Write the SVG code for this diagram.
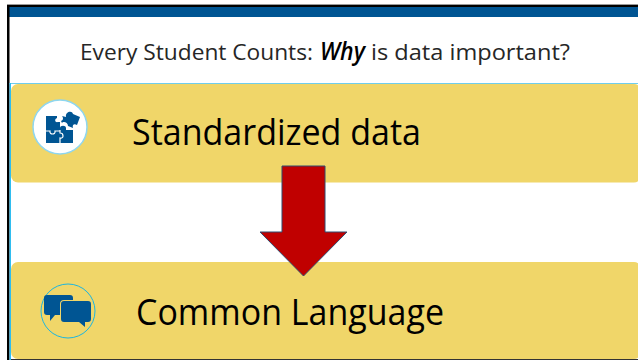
<svg xmlns="http://www.w3.org/2000/svg" width="638" height="360" viewBox="0 0 638 360">
<style>
.t{font-family:"Open Sans","Noto Sans",sans-serif;fill:#000}
.box{fill:#f0d669}
.ic{fill:#005593}
.seam{fill:none;stroke:#fff;stroke-width:1.200}
</style>
<rect width="638" height="360" fill="#fff"/>
<g id="frame">
<rect x="7" y="4" width="631" height="1.500" fill="#999"/>
<rect x="7" y="5" width="631" height="2.500" fill="#000"/>
<rect x="9" y="7" width="629" height="10" fill="#005593"/>
<rect x="7" y="5" width="2.500" height="355" fill="#000"/>
<rect x="9.500" y="83" width="628.500" height="1" fill="#6fcdec"/>
<rect x="9.500" y="83" width="1.500" height="277" fill="#2fbdf0"/>
</g>
<text id="title" class="t" y="60" font-size="22" style="fill:#262626"><tspan x="80" textLength="233" lengthAdjust="spacingAndGlyphs">Every Student Counts:</tspan><tspan x="320" font-size="25" font-weight="600" font-style="italic" textLength="45" lengthAdjust="spacingAndGlyphs" style="fill:#000">Why</tspan><tspan x="371" textLength="199" lengthAdjust="spacingAndGlyphs">is data important?</tspan></text>
<g id="node-standardized">
<rect class="box" x="11" y="84" width="630" height="98.500" rx="7"/>
<circle cx="60" cy="127" r="27" fill="#fff" stroke="#8ed6ef" stroke-width="1.500"/>
<path class="ic" d="M46 116H57V118C54 119 55 123 58 122H60V130H46ZM46 130H73V143H46ZM60 130V128C60 125 66 125 66 128V130Z"/>
<path class="seam" d="M60 130V133C64 133 64 139 60 138V143M46 131H50C49 135 56 135 55 131H60"/>
<path class="ic" d="M62 116L66 117C65 112 72 110 73 114L80 117L77 125C74 123 72 125 73 128L68 126C68 122 63 121 62 123L61 121C64 120 63 117 62 116Z"/>
<text class="t" x="132" y="145" font-size="36" textLength="289" lengthAdjust="spacingAndGlyphs">Standardized data</text>
</g>
<g id="node-common">
<rect class="box" x="11" y="262" width="630" height="97" rx="7"/>
<rect x="11" y="359" width="627" height="1" fill="#333"/>
<circle cx="68" cy="311" r="27" fill="none" stroke="#1cb5e0" stroke-width="1"/>
<path class="ic" d="M47 295H70Q73 295 73 298V300H64Q60 300 60 304V315H55L50 321V315H47Q44 315 44 312V298Q44 295 47 295Z"/>
<path class="ic" d="M64 301H88Q91 301 91 304V319Q91 322 88 322H85V327L79 322H64Q61 322 61 319V304Q61 301 64 301Z"/>
<text class="t" x="136" y="325" font-size="36" textLength="308" lengthAdjust="spacingAndGlyphs">Common Language</text>
</g>
<g id="connectors">
<polygon points="282,166 325,166 325,232 347,232 303.500,276 260,232 282,232" fill="#c00000" stroke="#2f4b6e" stroke-width="1"/>
</g>
</svg>
